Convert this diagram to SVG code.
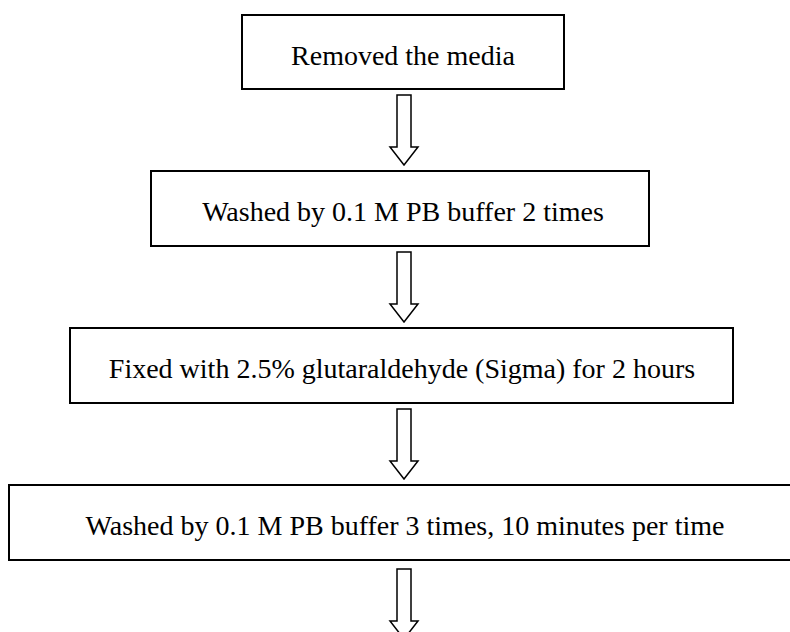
<svg xmlns="http://www.w3.org/2000/svg" width="790" height="632" viewBox="0 0 790 632">
<style>
.box{fill:#fff;stroke:#000;stroke-width:2}
.arr{fill:#fff;stroke:#000;stroke-width:1.5;stroke-linejoin:miter}
text{font-family:"Liberation Serif","Times New Roman",serif;font-size:28px;fill:#000;text-anchor:middle}
</style>
<rect width="790" height="632" fill="#fff"/>
<g id="connectors">
<path class="arr" d="M397,95 H411 V147 H418 L404,165 L390,147 H397 Z"/>
<path class="arr" d="M397,252 H411 V304 H418 L404,322 L390,304 H397 Z"/>
<path class="arr" d="M397,409 H411 V461 H418 L404,479 L390,461 H397 Z"/>
<path class="arr" d="M397,569 H411 V621 H418 L404,639 L390,621 H397 Z"/>
</g>
<g id="n1"><rect class="box" x="242" y="15" width="322" height="74"/><text x="403" y="65">Removed the media</text></g>
<g id="n2"><rect class="box" x="151" y="171" width="498" height="75"/><text x="403" y="221">Washed by 0.1 M PB buffer 2 times</text></g>
<g id="n3"><rect class="box" x="70" y="328" width="663" height="75"/><text x="402" y="378">Fixed with 2.5% glutaraldehyde (Sigma) for 2 hours</text></g>
<g id="n4"><rect class="box" x="9" y="485" width="800" height="75"/><text x="405" y="535">Washed by 0.1 M PB buffer 3 times, 10 minutes per time</text></g>
</svg>
